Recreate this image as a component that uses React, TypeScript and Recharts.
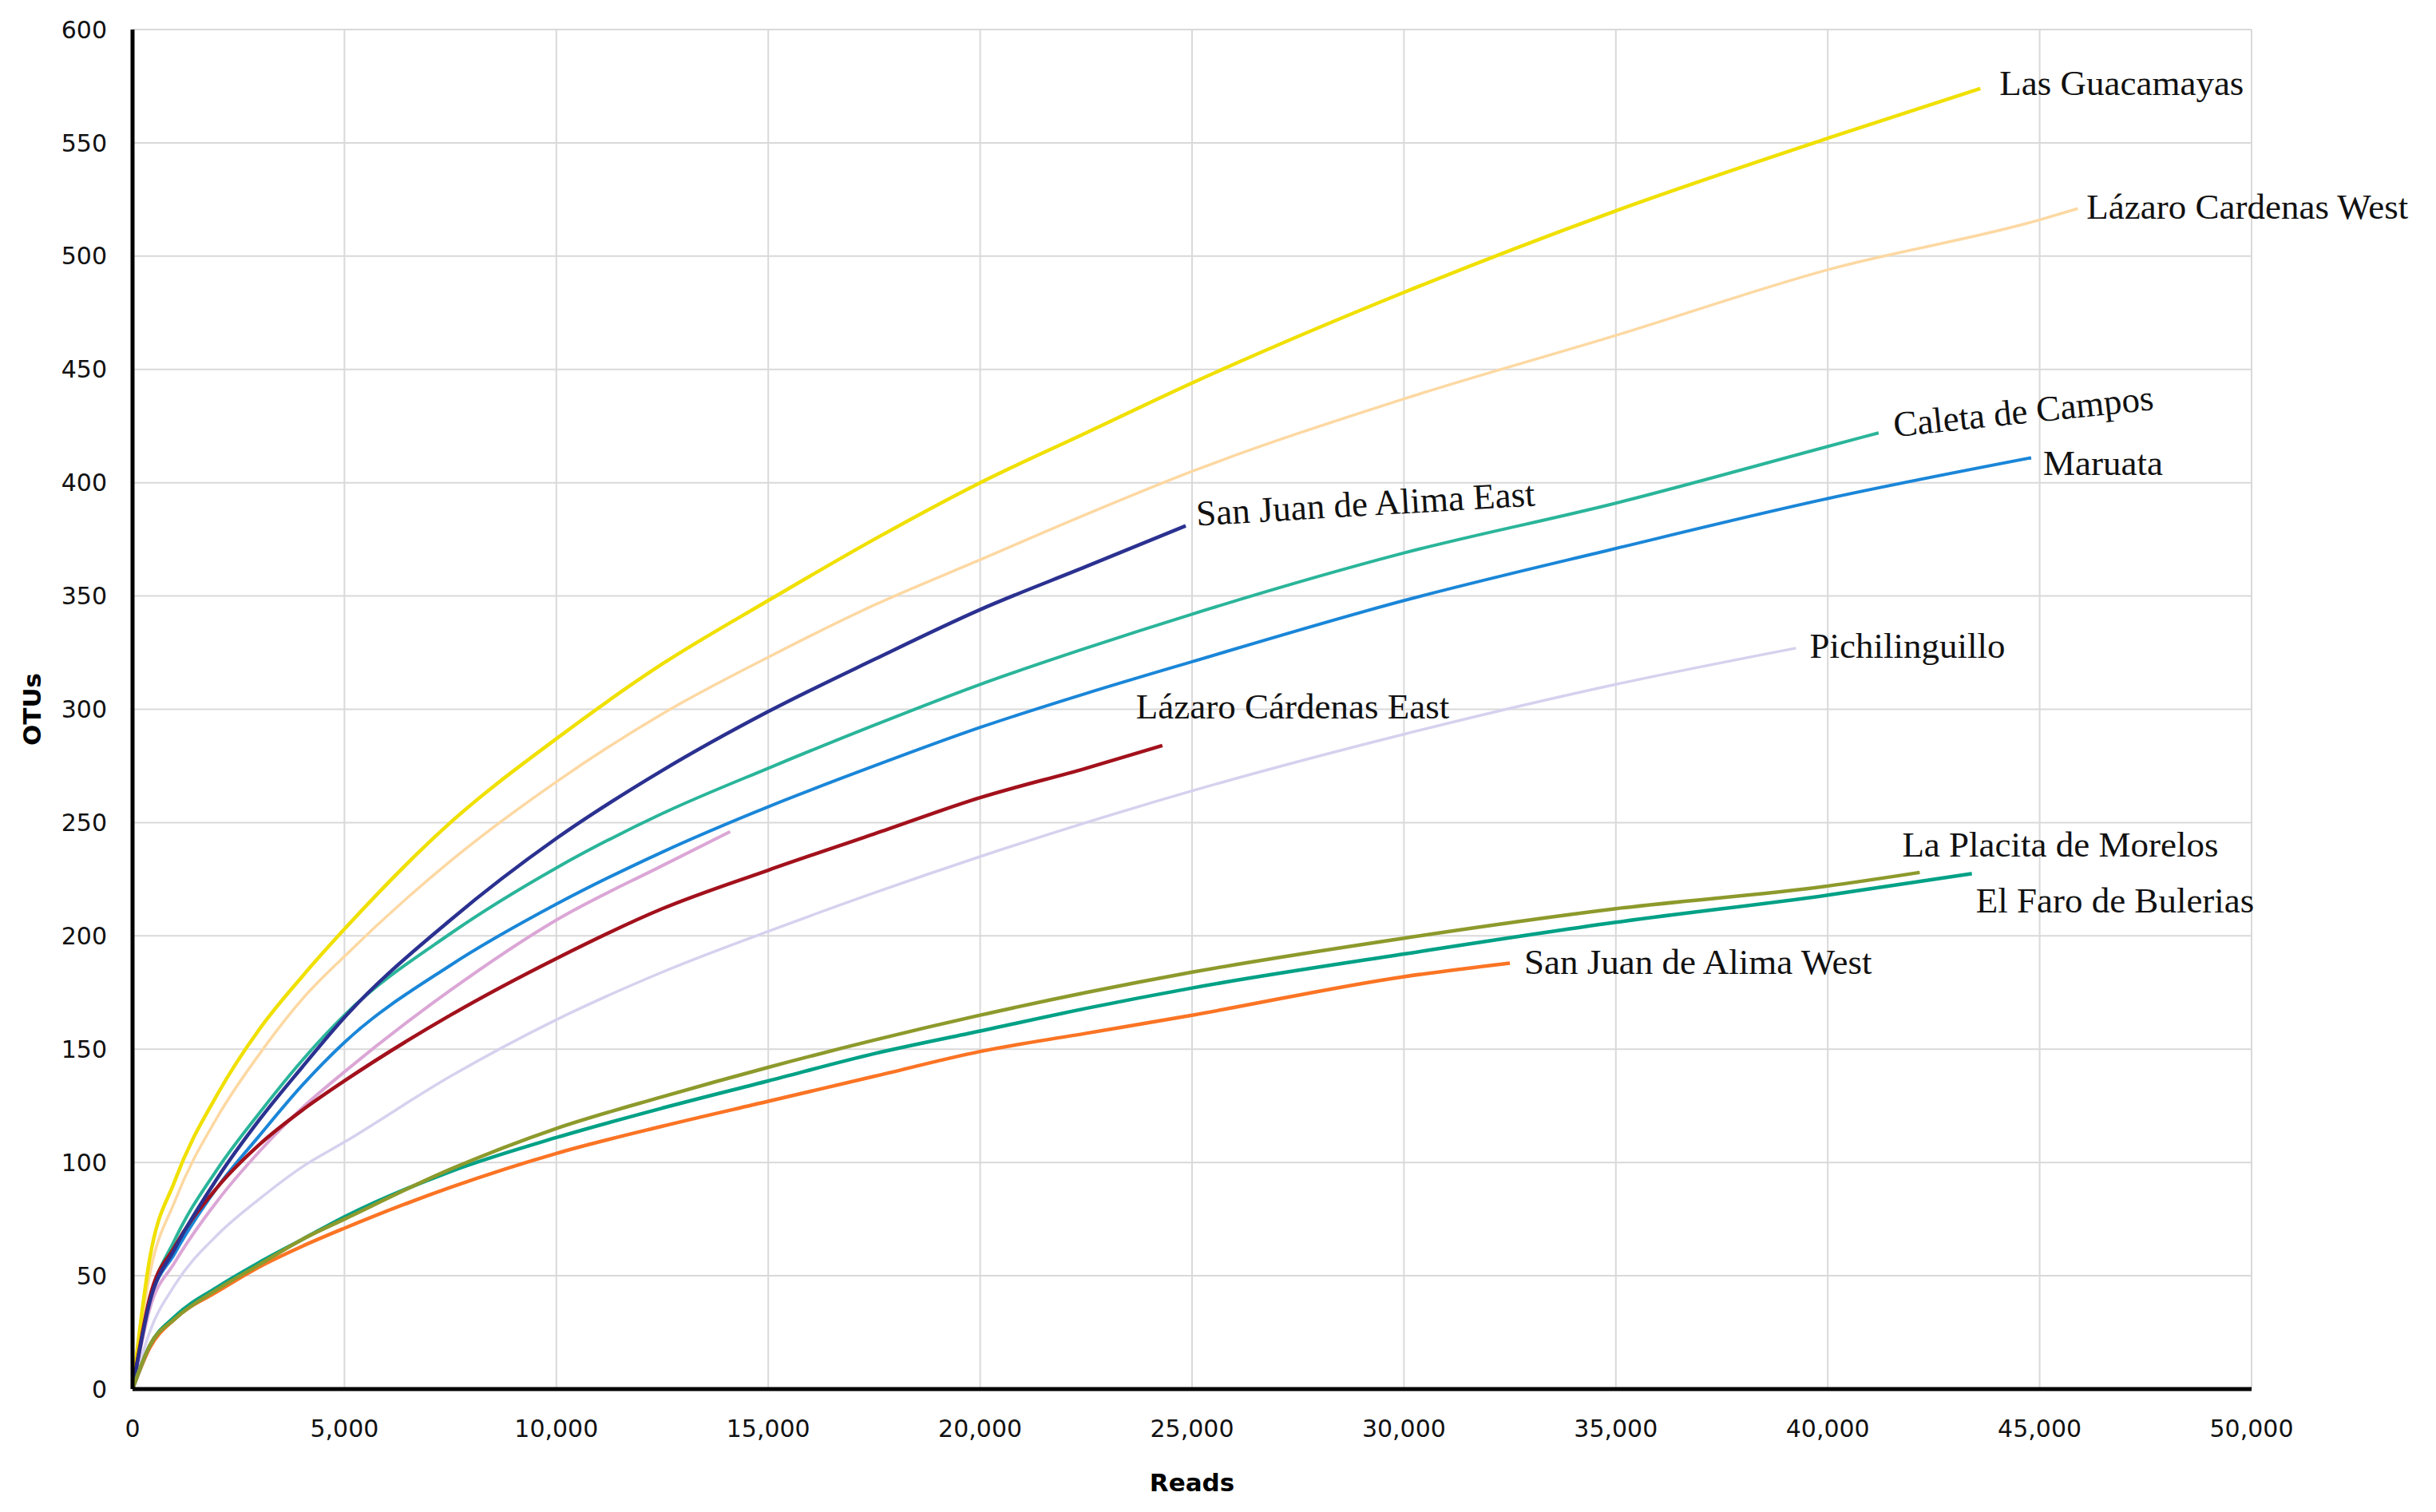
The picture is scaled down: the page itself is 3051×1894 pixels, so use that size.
import React from 'react';
import { CartesianGrid, Line, LineChart, XAxis, YAxis } from 'recharts';

// axis ticks
const readTicks = [0, 5000, 10000, 15000, 20000, 25000, 30000, 35000, 40000, 45000, 50000];
const otuTicks = [0, 50, 100, 150, 200, 250, 300, 350, 400, 450, 500, 550, 600];

// rarefaction curves
const readsGuacamayas = [0, 400, 1000, 2000, 3000, 4000, 5000, 7500, 10000, 12500, 15000, 17500, 20000, 22500, 25000, 30000, 35000, 40000, 43600];
const otusGuacamayas = [0, 57, 92, 130, 159, 182, 203, 250, 287, 320, 348, 375, 400, 422, 444, 484, 520, 552, 574];

const readsLcWest = [0, 400, 1000, 2000, 3000, 4000, 5000, 7500, 10000, 12500, 15000, 17500, 20000, 22500, 25000, 30000, 35000, 40000, 45000, 45900];
const otusLcWest = [0, 50, 83, 120, 148, 172, 191, 233, 268, 298, 323, 346, 366, 386, 405, 437, 465, 494, 516, 521];

const readsCaleta = [0, 400, 1000, 2000, 3000, 4000, 5000, 7500, 10000, 12500, 15000, 17500, 20000, 22500, 25000, 30000, 35000, 40000, 41200];
const otusCaleta = [0, 39, 66, 97, 122, 145, 165, 201, 230, 254, 274, 293, 311, 327, 342, 369, 391, 416, 422];

const readsMaruata = [0, 400, 1000, 2000, 3000, 4000, 5000, 7500, 10000, 12500, 15000, 17500, 20000, 22500, 25000, 30000, 35000, 40000, 44800];
const otusMaruata = [0, 38, 60, 89, 112, 134, 153, 187, 214, 237, 257, 275, 292, 307, 321, 348, 371, 393, 411];

const readsSjaEast = [0, 400, 1000, 2000, 3000, 4000, 5000, 7500, 10000, 12500, 15000, 17500, 20000, 22500, 24850];
const otusSjaEast = [0, 38, 62, 93, 119, 142, 164, 207, 243, 273, 299, 322, 344, 363, 381];

const readsPink = [0, 400, 1000, 2000, 3000, 4000, 5000, 7500, 10000, 12500, 14100];
const otusPink = [0, 35, 56, 83, 105, 124, 140, 176, 207, 231, 246];

const readsLcEast = [0, 400, 1000, 2000, 3000, 4000, 5000, 7500, 10000, 12500, 15000, 17500, 20000, 22500, 24300];
const otusLcEast = [0, 40, 63, 89, 108, 123, 136, 165, 190, 212, 229, 245, 261, 274, 284];

const readsPichi = [0, 400, 1000, 2000, 3000, 4000, 5000, 7500, 10000, 12500, 15000, 17500, 20000, 22500, 25000, 30000, 35000, 39250];
const otusPichi = [0, 25, 46, 68, 84, 98, 109, 138, 163, 184, 202, 219, 235, 250, 264, 289, 311, 327];

const readsPlacita = [0, 400, 1000, 2000, 3000, 4000, 5000, 7500, 10000, 12500, 15000, 17500, 20000, 22500, 25000, 30000, 35000, 40000, 42170];
const otusPlacita = [0, 19, 31, 44, 55, 66, 75, 97, 115, 129, 142, 154, 165, 175, 184, 199, 212, 222, 228];

const readsFaro = [0, 400, 1000, 2000, 3000, 4000, 5000, 7500, 10000, 12500, 15000, 17500, 20000, 22500, 25000, 30000, 35000, 40000, 43400];
const otusFaro = [0, 19, 32, 45, 56, 66, 76, 96, 111, 124, 136, 148, 158, 168, 177, 192, 206, 218, 227.5];

const readsSjaWest = [0, 400, 1000, 2000, 3000, 4000, 5000, 7500, 10000, 12500, 15000, 17500, 20000, 22500, 25000, 30000, 32500];
const otusSjaWest = [0, 18, 31, 43, 54, 63, 71, 89, 104, 116, 127, 138, 149, 157, 165, 182, 188];

const toPoints = (reads: number[], otus: number[]) => reads.map((x, i) => ({ x, y: otus[i] }));

type Tag = { dx: number; dy: number; angle?: number };

const series: { name: string; pts: { x: number; y: number }[]; color: string; width: number; tag?: Tag }[] = [
  { name: 'Pichilinguillo', pts: toPoints(readsPichi, otusPichi), color: '#d6d1ee', width: 3.5, tag: { dx: 17, dy: 12 } },
  { name: 'Lázaro Cardenas West', pts: toPoints(readsLcWest, otusLcWest), color: '#fdd8a2', width: 3.5, tag: { dx: 11, dy: 13 } },
  { name: 'Las Guacamayas', pts: toPoints(readsGuacamayas, otusGuacamayas), color: '#f0e000', width: 4.5, tag: { dx: 24, dy: 8 } },
  { name: 'Caleta de Campos', pts: toPoints(readsCaleta, otusCaleta), color: '#2ab59a', width: 4, tag: { dx: 20, dy: 5, angle: -6 } },
  { name: 'Maruata', pts: toPoints(readsMaruata, otusMaruata), color: '#1a86d8', width: 4, tag: { dx: 15, dy: 22 } },
  { name: 'pink', pts: toPoints(readsPink, otusPink), color: '#dba6d6', width: 4 },
  { name: 'Lázaro Cárdenas East', pts: toPoints(readsLcEast, otusLcEast), color: '#a2111c', width: 4.5, tag: { dx: -33, dy: -34 } },
  { name: 'San Juan de Alima East', pts: toPoints(readsSjaEast, otusSjaEast), color: '#2b3190', width: 4.5, tag: { dx: 14, dy: 0, angle: -3.4 } },
  { name: 'San Juan de Alima West', pts: toPoints(readsSjaWest, otusSjaWest), color: '#fb7424', width: 4.5, tag: { dx: 18, dy: 14 } },
  { name: 'El Faro de Bulerias', pts: toPoints(readsFaro, otusFaro), color: '#00a186', width: 4.5, tag: { dx: 5, dy: 49 } },
  { name: 'La Placita de Morelos', pts: toPoints(readsPlacita, otusPlacita), color: '#8d9a2c', width: 4.5, tag: { dx: -22, dy: -20 } },
];

const serif = '"Liberation Serif", "Times New Roman", serif';
const sans = '"DejaVu Sans", Verdana, sans-serif';

// only the last point of a curve gets a dot: its name
function endLabel(name: string, count: number, tag?: Tag) {
  return (p: any) => {
    if (!tag || p.index !== count - 1) return <g key={`d-${p.index}`} />;
    const x = p.cx + tag.dx;
    const y = p.cy + tag.dy;
    return (
      <text
        key={`d-${p.index}`}
        x={x}
        y={y}
        fontFamily={serif}
        fontSize={45}
        fill="#111"
        transform={tag.angle ? `rotate(${tag.angle} ${x} ${y})` : undefined}
      >
        {name}
      </text>
    );
  };
}

const YTitle = (props: any) => {
  const { viewBox } = props;
  const cx = viewBox.x + 40;
  const cy = viewBox.y + viewBox.height / 2;
  return (
    <text x={cx} y={cy} transform={`rotate(-90 ${cx} ${cy})`} textAnchor="middle" dominantBaseline="central" fontFamily={sans} fontWeight={700} fontSize={31} fill="#000">
      OTUs
    </text>
  );
};

const XTitle = (props: any) => {
  const { viewBox } = props;
  return (
    <text x={viewBox.x + viewBox.width / 2} y={viewBox.y + 128} textAnchor="middle" fontFamily={sans} fontWeight={700} fontSize={31} fill="#000">
      Reads
    </text>
  );
};

export default function App() {
  const tick = { fontFamily: sans, fontSize: 30, fill: '#111' };
  return (
    <div style={{ position: 'absolute', left: 0, top: 0, width: 3051, height: 1894, background: '#fff' }}>
      <LineChart width={3051} height={1894} margin={{ top: 37, right: 231, bottom: 0, left: 0 }}>
        <CartesianGrid stroke="#d9d9d9" strokeWidth={2} />
        <XAxis
          type="number"
          dataKey="x"
          domain={[0, 50000]}
          ticks={readTicks}
          height={154}
          tickSize={0}
          tickMargin={39}
          tickLine={false}
          axisLine={{ stroke: '#000', strokeWidth: 5 }}
          tick={tick}
          tickFormatter={(v: number) => v.toLocaleString('en-US')}
          label={<XTitle />}
        />
        <YAxis
          type="number"
          domain={[0, 600]}
          ticks={otuTicks}
          width={166}
          tickSize={0}
          tickMargin={32}
          tickLine={false}
          axisLine={{ stroke: '#000', strokeWidth: 5 }}
          tick={tick}
          label={<YTitle />}
        />
        {series.map((s) => (
          <Line
            key={s.name}
            data={s.pts}
            dataKey="y"
            type="monotone"
            stroke={s.color}
            strokeWidth={s.width}
            dot={endLabel(s.name, s.pts.length, s.tag)}
            activeDot={false}
            isAnimationActive={false}
          />
        ))}
      </LineChart>
    </div>
  );
}
